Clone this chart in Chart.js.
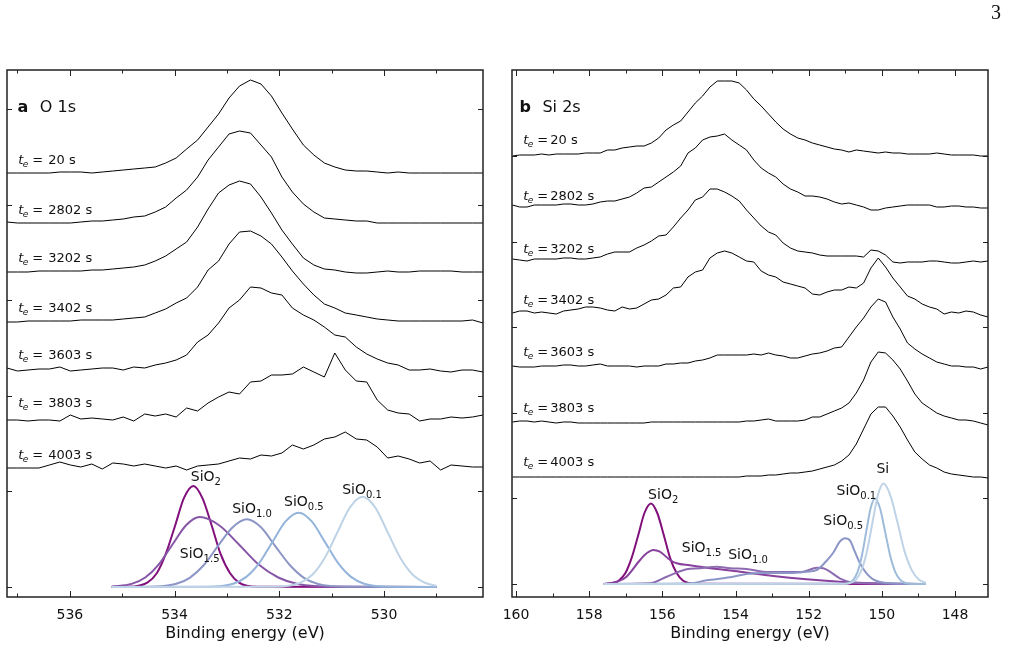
<!DOCTYPE html>
<html>
<head>
<meta charset="utf-8">
<script src="https://cdn.jsdelivr.net/npm/chart.js@4.4.0/dist/chart.umd.min.js"></script>
<style>
  body { margin: 0; background: #fff; width: 1011px; height: 650px; overflow: hidden; position: relative; }
  #pa { position: absolute; left: 0; top: 0; }
  #pb { position: absolute; left: 495px; top: 0; }
  #page { position: absolute; left: 991px; top: 1px; font: 20px 'Liberation Serif', serif; color: #111; }
</style>
</head>
<body>
<canvas id="pa" width="495" height="650"></canvas>
<canvas id="pb" width="516" height="650"></canvas>
<div id="page">3</div>
<script>
// ---- panel a: O 1s ----
var energyA = [537.20, 537.00, 536.80, 536.59, 536.39, 536.19, 535.99, 535.79, 535.58, 535.38, 535.18, 534.98, 534.78, 534.57, 534.37, 534.17,
  533.97, 533.77, 533.56, 533.36, 533.16, 532.96, 532.76, 532.55, 532.35, 532.15, 531.95, 531.75, 531.54, 531.34, 531.14, 530.94,
  530.74, 530.53, 530.33, 530.13, 529.93, 529.73, 529.52, 529.32, 529.12, 528.92, 528.72, 528.51, 528.31, 528.11];
var timesA = [20, 2802, 3202, 3402, 3603, 3803, 4003];
var a20 = [414,414,414,414,414,415,415,415,414,415,416,417,418,419,420,424,429,438,447,460,473,489,501,507,503,491,474,458,442,432,424,420,417,416,416,415,414,415,414,414,414,414,414,414,414,414];
var a2802 = [365,364,364,364,364,364,364,365,366,366,367,368,370,371,375,380,389,397,410,427,440,453,456,454,442,430,410,395,383,375,369,368,367,366,366,364,364,364,364,364,364,364,364,364,364,364];
var a3202 = [315,315,315,316,316,316,316,316,317,317,318,319,320,322,326,331,338,345,360,378,394,402,406,403,390,374,357,343,329,322,318,317,315,314,314,315,316,315,315,316,316,316,316,315,315,315];
var a3402 = [265,265,266,266,266,266,266,267,267,267,267,268,269,270,274,278,284,289,300,317,326,343,355,356,351,343,330,316,303,292,283,279,274,272,270,268,267,266,266,266,266,266,266,266,267,264];
var a3603 = [219,216,217,218,218,220,216,217,218,219,219,217,220,219,222,224,227,232,245,252,264,279,287,300,299,294,292,279,272,267,260,252,250,240,233,228,224,222,217,217,218,216,215,217,217,215];
var a3803 = [167,167,166,167,167,166,172,168,169,168,167,170,166,173,171,173,170,179,176,184,190,195,193,205,206,212,212,213,220,215,210,234,217,206,205,187,177,174,173,166,168,168,170,169,170,172];
var a4003 = [119,119,119,119,122,125,122,120,123,118,124,123,121,123,121,119,121,117,121,122,123,126,129,128,132,131,134,142,138,142,148,150,155,148,147,140,129,131,128,124,126,117,122,121,120,120];
var labelLevelA = [423, 373.5, 325, 275.5, 228, 180, 128];

// fitted components, panel a
var aSiO2E = [529.0, 532.42, 532.77, 532.94, 533.12, 533.29, 533.47, 533.64, 533.82, 533.99, 534.17, 534.34, 534.52, 534.87, 535.2];
var aSiO2I = [0, 0.2, 4.4, 13.7, 32.8, 61.3, 89.1, 101, 89.1, 61.3, 32.8, 13.7, 4.4, 0.2, 0];
var aSiO15E = [529.0, 530.9, 531.65, 532.02, 532.4, 532.77, 533.15, 533.52, 533.78, 534.04, 534.3, 534.56, 534.82, 535.2];
var aSiO15I = [0, 0.2, 3.1, 9.5, 22.7, 42.5, 61.8, 70, 61.8, 42.5, 22.7, 9.5, 3.1, 0.4];
var aSiO10E = [529.0, 530.71, 531.26, 531.53, 531.8, 532.08, 532.35, 532.62, 532.89, 533.17, 533.44, 533.71, 533.98, 534.53, 535.2];
var aSiO10I = [0, 0.2, 3.0, 9.2, 22.0, 41.1, 59.7, 67.7, 59.7, 41.1, 22.0, 9.2, 3.0, 0.2, 0];
var aSiO05E = [529.0, 529.88, 530.38, 530.63, 530.88, 531.13, 531.38, 531.63, 531.88, 532.13, 532.38, 532.63, 532.88, 533.38, 535.2];
var aSiO05I = [0, 0.2, 3.3, 10.1, 24.1, 45.1, 65.6, 74.3, 65.6, 45.1, 24.1, 10.1, 3.3, 0.2, 0];
var aSiO01E = [529.0, 529.21, 529.45, 529.69, 529.93, 530.17, 530.41, 530.65, 530.89, 531.13, 531.37, 531.61, 532.09, 535.2];
var aSiO01I = [1.2, 4.0, 12.2, 29.3, 54.8, 79.7, 90.3, 79.7, 54.8, 29.3, 12.2, 4.0, 0.2, 0];
var yTicksA = [0, 96, 191, 287, 382, 478];

// ---- panel b: Si 2s ----
var energyB = [160.1, 159.9, 159.7, 159.5, 159.3, 159.1, 158.9, 158.7, 158.5, 158.3, 158.1, 157.9, 157.7, 157.5, 157.3, 157.1, 156.9,
  156.7, 156.5, 156.3, 156.1, 155.9, 155.7, 155.5, 155.3, 155.1, 154.9, 154.7, 154.5, 154.3, 154.1, 153.9, 153.7, 153.5, 153.3,
  153.1, 152.9, 152.7, 152.5, 152.3, 152.1, 151.9, 151.7, 151.5, 151.3, 151.1, 150.9, 150.7, 150.5, 150.3, 150.1, 149.9, 149.7,
  149.5, 149.3, 149.1, 148.9, 148.7, 148.5, 148.3, 148.1, 147.9, 147.7, 147.5, 147.3, 147.1];
var timesB = [20, 2802, 3202, 3402, 3603, 3803, 4003];
var b20 = [428,429,429,429,430,429,430,430,430,430,431,431,431,434,434,436,437,438,438,441,446,454,459,463,472,481,488,497,503,503,503,501,494,485,478,470,462,455,450,446,444,441,439,437,435,434,432,434,433,432,431,432,431,431,430,430,430,430,431,430,429,429,429,429,428,428];
var b2802 = [379,377,377,379,379,379,379,380,380,379,379,380,382,383,383,385,387,391,396,397,402,407,412,418,431,436,444,447,448,450,444,439,434,424,416,411,407,400,395,392,388,388,387,385,382,380,381,379,377,374,374,376,377,378,379,379,379,379,377,377,378,378,377,377,376,376];
var b3202 = [325,324,323,325,325,325,325,326,326,325,325,326,327,330,332,332,332,336,339,343,348,349,357,366,374,384,387,395,395,392,388,383,374,366,358,352,349,341,336,333,332,331,329,328,328,328,328,328,327,334,333,329,322,321,322,322,322,323,323,322,321,321,322,323,322,323];
var b3402 = [271,273,273,271,272,271,270,273,274,275,277,277,276,274,273,277,275,276,280,284,285,289,296,297,307,312,314,326,331,333,331,327,323,322,313,309,307,302,300,298,296,290,289,292,294,294,297,296,301,316,326,317,306,297,288,285,280,277,275,270,272,271,273,272,269,267];
var b3603 = [218,217,217,217,218,218,218,219,219,218,218,219,220,218,218,218,218,217,218,218,218,220,220,221,221,223,224,226,229,229,229,229,229,230,229,231,229,228,226,226,228,230,231,233,236,237,247,257,266,277,285,282,267,255,241,235,230,226,222,220,218,218,217,217,215,217];
var b3803 = [162,163,163,162,163,162,161,162,162,161,161,161,161,161,161,161,161,161,161,162,162,162,162,162,162,162,162,162,162,162,162,162,163,163,164,165,163,163,163,163,164,167,167,170,173,176,181,191,204,222,232,231,224,215,203,190,181,176,171,168,166,164,164,163,161,159];
var b4003 = [107,107,107,107,107,107,107,107,107,107,107,107,107,107,107,107,107,107,107,107,107,107,107,107,107,107,107,107,107,107,107,107,108,108,108,109,109,110,111,111,112,113,115,117,119,123,129,140,155,170,177,177,168,157,144,132,125,119,116,112,110,109,108,107,107,106];
var labelLevelB = [440, 384.5, 331, 280, 228.5, 172, 118];

// fitted components, panel b
var bSiO2E = [148.8, 155.09, 155.44, 155.61, 155.79, 155.96, 156.14, 156.31, 156.49, 156.66, 156.84, 157.01, 157.19, 157.54, 157.6];
var bSiO2I = [0, 0.2, 3.5, 10.9, 26.1, 48.8, 71.0, 80.5, 71.0, 48.8, 26.1, 10.9, 3.5, 0.2, 0];
var bSiO15E = [148.8, 150.24, 151.15, 152.06, 152.97, 153.88, 154.79, 155.25, 155.61, 155.79, 156.07, 156.25, 156.43, 156.61, 156.98, 157.25, 157.6];
var bSiO15I = [0, 0.7, 2.3, 4.7, 8, 12.3, 16.3, 18.7, 20.7, 24, 32.3, 34, 30.7, 24, 7.3, 2, 0];
var bSiO10E = [148.8, 150.78, 151.15, 151.42, 151.6, 151.78, 152.15, 152.51, 152.88, 153.24, 153.7, 154.15, 154.52, 154.97, 155.34, 155.88, 156.34, 157.6];
var bSiO10I = [0, 1.3, 5.7, 12.3, 15.7, 16.3, 12.3, 12, 12, 12.3, 15, 15.7, 17.3, 15.7, 14.7, 7.3, 0.7, 0];
var bSiO05E = [148.8, 149.78, 150.05, 150.24, 150.42, 150.6, 150.74, 150.87, 151.01, 151.15, 151.33, 151.51, 151.78, 152.06, 152.51, 153.24, 153.7, 154.15, 154.79, 155.25, 157.6];
var bSiO05I = [0, 0.7, 2, 4.7, 10.7, 20.7, 32.3, 43.3, 45.7, 42.3, 31.3, 23.3, 14, 12.3, 11, 11, 10, 6.7, 3.7, 0.7, 0];
var bSiO01E = [148.8, 149.21, 149.49, 149.63, 149.77, 149.91, 150.05, 150.19, 150.31, 150.43, 150.55, 150.67, 150.79, 151.03, 157.6];
var bSiO01I = [0, 0.2, 3.8, 11.6, 27.8, 51.9, 75.5, 85.5, 75.5, 51.9, 27.8, 11.6, 3.8, 0.2, 0];
var bSiE = [148.8, 148.99, 149.18, 149.38, 149.57, 149.77, 149.96, 150.11, 150.26, 150.41, 150.56, 150.71, 151.01, 157.6];
var bSiI = [1.2, 4.4, 13.6, 32.6, 61.0, 88.7, 100.5, 88.7, 61.0, 32.6, 13.6, 4.4, 0.2, 0];
var yTicksB = [0, 86, 171, 257, 342, 428];

Chart.defaults.font.family = "'DejaVu Sans', sans-serif";
Chart.defaults.color = '#111';

function pts(E, I) {
  return E.map(function (e, i) { return { x: e, y: I[i] }; });
}

function traceSet(E, I) {
  return { data: pts(E, I), borderColor: '#000', borderWidth: 1, pointRadius: 0, tension: 0, order: 0 };
}

function compSet(E, I, color, order) {
  return { data: pts(E, I), borderColor: color, borderWidth: 2, pointRadius: 0, cubicInterpolationMode: 'monotone', order: order };
}

// draw "SiO" + subscript
function chem(ctx, x, y, base, sub) {
  ctx.font = "14px 'DejaVu Sans'";
  ctx.fillText(base, x, y);
  var w = ctx.measureText(base).width;
  if (sub) {
    ctx.font = "10px 'DejaVu Sans'";
    ctx.fillText(sub, x + w, y + 3.5);
  }
}

// inner ticks, frame and all the text inside the axes
var framePlugin = {
  id: 'frame',
  afterDraw: function (chart, args, o) {
    var ctx = chart.ctx, a = chart.chartArea, sx = chart.scales.x, sy = chart.scales.y;
    ctx.save();
    ctx.strokeStyle = '#222';
    ctx.lineWidth = 1;
    sx.ticks.forEach(function (t) {
      var px = Math.round(sx.getPixelForValue(t.value)) + 0.5;
      var len = t.value % 2 === 0 ? 6 : 3.5;
      ctx.beginPath();
      ctx.moveTo(px, a.bottom); ctx.lineTo(px, a.bottom - len);
      ctx.moveTo(px, a.top); ctx.lineTo(px, a.top + len);
      ctx.stroke();
    });
    o.yTicks.forEach(function (v) {
      var py = Math.round(sy.getPixelForValue(v)) + 0.5;
      ctx.beginPath();
      ctx.moveTo(a.left, py); ctx.lineTo(a.left + 5, py);
      ctx.moveTo(a.right, py); ctx.lineTo(a.right - 5, py);
      ctx.stroke();
    });
    ctx.lineWidth = 1.5;
    ctx.strokeRect(a.left, a.top, a.right - a.left, a.bottom - a.top);

    ctx.fillStyle = '#111';
    ctx.textBaseline = 'alphabetic';
    ctx.textAlign = 'left';
    // panel header
    var hx = a.left + o.headX, hy = a.top + 41.5;
    ctx.font = "bold 16px 'DejaVu Sans'";
    ctx.fillText(o.letter, hx, hy);
    var lw = ctx.measureText(o.letter).width;
    ctx.font = "16px 'DejaVu Sans'";
    ctx.fillText(o.title, hx + lw + 11.5, hy);

    // exposure time labels above each trace
    o.times.forEach(function (t, i) {
      var tx = a.left + 11.3;
      var ty = sy.getPixelForValue(o.levels[i]);
      ctx.font = "italic 13px 'DejaVu Sans'";
      ctx.fillText('t', tx, ty);
      ctx.font = "italic 9px 'DejaVu Sans'";
      ctx.fillText('e', tx + 4.5, ty + 3);
      ctx.font = "13px 'DejaVu Sans'";
      ctx.fillText('=', tx + 14, ty);
      ctx.fillText(t + ' s', tx + o.numOff, ty);
    });

    // component names
    o.labels.forEach(function (l) {
      chem(ctx, sx.getPixelForValue(l.x), sy.getPixelForValue(l.y), l.base, l.sub);
    });
    ctx.restore();
  }
};

function makeChart(id, datasets, xmin, xmax, ymin, ymax, padL, padR, frame) {
  return new Chart(document.getElementById(id), {
    type: 'line',
    data: { datasets: datasets },
    plugins: [framePlugin],
    options: {
      responsive: false,
      animation: false,
      devicePixelRatio: 1,
      events: [],
      layout: { padding: { left: padL, right: padR, top: 70, bottom: 5 } },
      plugins: { legend: { display: false }, tooltip: { enabled: false }, frame: frame },
      scales: {
        x: {
          type: 'linear', reverse: true, min: xmin, max: xmax,
          grid: { display: false, drawTicks: false },
          border: { display: false },
          // keep the plot frame where the layout padding puts it
          afterFit: function (s) { s.paddingLeft = 0; s.paddingRight = 0; },
          ticks: {
            stepSize: 1, autoSkip: false, maxRotation: 0, includeBounds: false, padding: 10,
            color: '#111', font: { size: 14 },
            callback: function (v) { return v % 2 === 0 ? String(v) : ''; }
          },
          title: { display: true, text: 'Binding energy (eV)', color: '#111', font: { size: 16 }, padding: { top: -10, bottom: 2 } }
        },
        y: { display: false, min: ymin, max: ymax }
      }
    }
  });
}

var tracesA = [a20, a2802, a3202, a3402, a3603, a3803, a4003];
var setsA = tracesA.map(function (t) { return traceSet(energyA, t); }).concat([
  compSet(aSiO2E, aSiO2I, '#810f7c', 5),
  compSet(aSiO15E, aSiO15I, '#8856a7', 4),
  compSet(aSiO10E, aSiO10I, '#8c96c6', 3),
  compSet(aSiO05E, aSiO05I, '#94b4db', 2),
  compSet(aSiO01E, aSiO01I, '#bfd3e6', 1)
]);
makeChart('pa', setsA, 528.11, 537.2, -10, 517, 7, 12, {
  letter: 'a', title: 'O 1s', headX: 10.5, numOff: 30, yTicks: yTicksA, times: timesA, levels: labelLevelA,
  labels: [
    { base: 'SiO', sub: '2', x: 533.69, y: 106 },
    { base: 'SiO', sub: '1.5', x: 533.90, y: 29 },
    { base: 'SiO', sub: '1.0', x: 532.90, y: 74 },
    { base: 'SiO', sub: '0.5', x: 531.91, y: 81 },
    { base: 'SiO', sub: '0.1', x: 530.80, y: 93 }
  ]
});

var tracesB = [b20, b2802, b3202, b3402, b3603, b3803, b4003];
var setsB = tracesB.map(function (t) { return traceSet(energyB, t); }).concat([
  compSet(bSiO2E, bSiO2I, '#810f7c', 6),
  compSet(bSiO15E, bSiO15I, '#88419d', 5),
  compSet(bSiO10E, bSiO10I, '#8c6bb1', 4),
  compSet(bSiO05E, bSiO05I, '#8c96c6', 3),
  compSet(bSiO01E, bSiO01I, '#9ebcda', 2),
  compSet(bSiE, bSiI, '#bfd3e6', 1)
]);
makeChart('pb', setsB, 147.1, 160.11, -13, 514, 17, 23, {
  letter: 'b', title: 'Si 2s', headX: 7.5, numOff: 27, yTicks: yTicksB, times: timesB, levels: labelLevelB,
  labels: [
    { base: 'SiO', sub: '2', x: 156.39, y: 85 },
    { base: 'SiO', sub: '1.5', x: 155.47, y: 32 },
    { base: 'SiO', sub: '1.0', x: 154.20, y: 25 },
    { base: 'SiO', sub: '0.5', x: 151.60, y: 59 },
    { base: 'SiO', sub: '0.1', x: 151.24, y: 89 },
    { base: 'Si', sub: '', x: 150.15, y: 111.5 }
  ]
});
</script>
</body>
</html>
